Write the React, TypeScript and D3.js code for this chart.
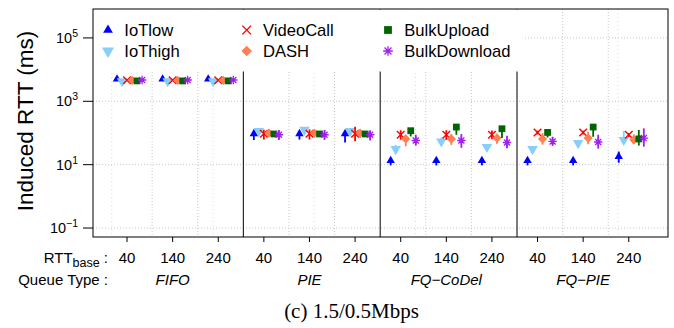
import * as d3 from "d3";

const queueTypes = ["FIFO", "PIE", "FQ\u2212CoDel", "FQ\u2212PIE"];
const rttBase = ["40", "140", "240"];
const yTicks = [1e-1, 1e1, 1e3, 1e5];
const yTickExp = ["\u22121", "1", "3", "5"];

// order of every array: FIFO 40/140/240, PIE 40/140/240, FQ-CoDel 40/140/240, FQ-PIE 40/140/240
const iotLow = [5000, 5000, 5000, 95, 95, 95, 13.5, 13.5, 13.5, 13.4, 13.4, 18];
const iotLowLo = [4800, 4800, 4800, 60, 62, 50, 9.5, 9.5, 9.5, 9.5, 9.5, 11.5];
const iotLowHi = [5200, 5200, 5200, 100, 100, 100, 16, 16, 16, 16, 16, 26];

const iotHigh = [4300, 4300, 4300, 115, 125, 115, 31, 54, 36, 31, 48, 60];
const iotHighLo = [4100, 4100, 4100, 105, 110, 105, 26, 42, 30, 27, 40, 52];
const iotHighHi = [4500, 4500, 4500, 125, 140, 125, 42, 72, 45, 38, 60, 115];

const videoCall = [4600, 4600, 4600, 95, 95, 95, 88, 88, 88, 104, 104, 88];
const videoCallLo = [4400, 4400, 4400, 62, 62, 55, 61, 61, 63, 90, 90, 75];
const videoCallHi = [4800, 4800, 4800, 126, 130, 157, 122, 122, 120, 118, 118, 100];

const dash = [4600, 4600, 4600, 100, 100, 100, 65, 65, 69, 65, 69, 61];
const dashLo = [4400, 4400, 4400, 75, 72, 70, 38, 42, 46, 43, 44, 45];
const dashHi = [4800, 4800, 4800, 118, 120, 125, 88, 92, 95, 100, 110, 90];

const bulkUpload = [4400, 4400, 4400, 93, 93, 93, 118, 154, 136, 104, 154, 65];
const bulkUploadLo = [4200, 4200, 4200, 82, 82, 80, 78, 88, 70, 72, 76, 40];
const bulkUploadHi = [4600, 4600, 4600, 105, 105, 105, 125, 165, 145, 110, 165, 125];

const bulkDownload = [4700, 4700, 4700, 88, 88, 88, 58, 58, 50, 54, 52, 69];
const bulkDownloadLo = [4500, 4500, 4500, 60, 60, 58, 40, 34, 33, 40, 32, 37];
const bulkDownloadHi = [4900, 4900, 4900, 125, 125, 120, 88, 93, 82, 76, 88, 140];

const seriesNames = ["IoTlow", "IoThigh", "VideoCall", "DASH", "BulkUpload", "BulkDownload"];
const seriesColors = ["#0000FF", "#87CEFA", "#FF0000", "#FF7F50", "#006400", "#A020F0"];
const seriesShapes = ["up", "down", "cross", "diamond", "square", "star"];

const series = [
  { mid: iotLow, lo: iotLowLo, hi: iotLowHi },
  { mid: iotHigh, lo: iotHighLo, hi: iotHighHi },
  { mid: videoCall, lo: videoCallLo, hi: videoCallHi },
  { mid: dash, lo: dashLo, hi: dashHi },
  { mid: bulkUpload, lo: bulkUploadLo, hi: bulkUploadHi },
  { mid: bulkDownload, lo: bulkDownloadLo, hi: bulkDownloadHi },
].map((s, i) => ({ ...s, name: seriesNames[i], color: seriesColors[i], shape: seriesShapes[i] }));

const W = 674;
const H = 328;
const plot = { left: 93, right: 668, top: 9, bottom: 237 };
const font = "'Liberation Sans', Arial, Helvetica, sans-serif";

const nPos = queueTypes.length * rttBase.length;
const x = d3.scaleLinear().domain([-0.746, 11.86]).range([plot.left, plot.right]);
const y = d3.scaleLog().domain([Math.pow(10, -1.283), Math.pow(10, 5.913)]).range([plot.bottom, plot.top]);
const dodge = 0.11;

function Marker({ shape, color, cx, cy, k = 1 }: any) {
  if (shape === "up") {
    const d = d3.symbol(d3.symbolTriangle, 31 * k * k)();
    return <path d={d!} transform={`translate(${cx},${cy})`} fill={color} />;
  }
  if (shape === "down") {
    const d = d3.symbol(d3.symbolTriangle, 48 * k * k)();
    return <path d={d!} transform={`translate(${cx},${cy}) rotate(180)`} fill={color} />;
  }
  if (shape === "square") {
    const d = d3.symbol(d3.symbolSquare, 46 * k * k)();
    return <path d={d!} transform={`translate(${cx},${cy})`} fill={color} />;
  }
  if (shape === "diamond") {
    const r = 4.6 * k;
    return <path d={`M0,${-r}L${r},0L0,${r}L${-r},0Z`} transform={`translate(${cx},${cy})`} fill={color} />;
  }
  if (shape === "cross") {
    const r = 3.8 * k;
    return (
      <path d={`M${-r},${-r}L${r},${r}M${-r},${r}L${r},${-r}`} transform={`translate(${cx},${cy})`}
        stroke={color} strokeWidth={1.4} fill="none" />
    );
  }
  const r = 4.2 * k;
  const q = r * 0.72;
  return (
    <path d={`M0,${-r}V${r}M${-r},0H${r}M${-q},${-q}L${q},${q}M${-q},${q}L${q},${-q}`}
      transform={`translate(${cx},${cy})`} stroke={color} strokeWidth={1.3} fill="none" />
  );
}

export default function App() {
  const positions = d3.range(nPos);
  const gridA = d3.range(11).filter((k) => k % 3 !== 2).map((k) => k + 0.55);
  const gridB = d3.range(6).map((k) => -0.334 + 2.22 * k);
  const separators = [2.55, 5.55, 8.55];

  const legendCols = [108, 246.7, 388];
  const legendRows = [30, 51];

  return (
    <svg width={W} height={H} style={{ position: "absolute", left: 0, top: 0, background: "#fff" }} fontFamily={font}>
      {/* grid */}
      {yTicks.map((t) => (
        <line key={"gy" + t} x1={plot.left} x2={plot.right} y1={y(t)} y2={y(t)}
          stroke="#c8c8c8" strokeWidth={1} strokeDasharray="1,2" />
      ))}
      {gridA.map((u) => (
        <line key={"ga" + u} x1={x(u)} x2={x(u)} y1={plot.top} y2={plot.bottom}
          stroke="#c8c8c8" strokeWidth={1} strokeDasharray="1,2" />
      ))}
      {gridB.map((u) => (
        <line key={"gb" + u} x1={x(u)} x2={x(u)} y1={plot.top} y2={plot.bottom}
          stroke="#d8d8d8" strokeWidth={1} strokeDasharray="1,3" />
      ))}
      {separators.map((u) => (
        <line key={"sep" + u} x1={x(u)} x2={x(u)} y1={plot.top} y2={plot.bottom} stroke="#000" strokeWidth={1} />
      ))}

      {/* data */}
      {series.map((s, si) => (
        <g key={s.name}>
          {positions.map((p) => {
            const cx = x(p + (si - 2) * dodge);
            return (
              <g key={p}>
                <line x1={cx} x2={cx} y1={y(s.lo[p])} y2={y(s.hi[p])} stroke={s.color} strokeWidth={1.8} />
                <Marker shape={s.shape} color={s.color} cx={cx} cy={y(s.mid[p])} />
              </g>
            );
          })}
        </g>
      ))}

      {/* legend */}
      <rect x={plot.left + 0.5} y={plot.top + 0.5} width={429} height={62} fill="#fff" />
      {series.map((s, i) => {
        const col = Math.floor(i / 2);
        const row = i % 2;
        return (
          <g key={"lg" + s.name}>
            <Marker shape={s.shape} color={s.color} cx={legendCols[col]} cy={legendRows[row]} k={1.15} />
            <text x={legendCols[col] + 16.3} y={legendRows[row] + 6} fontSize={16.6} fill="#000">
              {s.name}
            </text>
          </g>
        );
      })}

      {/* frame */}
      <rect x={plot.left} y={plot.top} width={plot.right - plot.left} height={plot.bottom - plot.top}
        fill="none" stroke="#000" strokeWidth={1} />

      {/* y axis */}
      {yTicks.map((t, i) => (
        <g key={"yt" + t}>
          <line x1={plot.left - 10} x2={plot.left} y1={y(t)} y2={y(t)} stroke="#000" />
          <text x={78} y={y(t) + 5} textAnchor="end" fontSize={14.5}>
            10<tspan dy={-6} fontSize={10.5}>{yTickExp[i]}</tspan>
          </text>
        </g>
      ))}
      <text transform={`translate(33,121) rotate(-90)`} textAnchor="middle" fontSize={22.5}>
        Induced RTT (ms)
      </text>

      {/* x axis */}
      {positions.map((p) => (
        <g key={"xt" + p}>
          <line x1={x(p)} x2={x(p)} y1={plot.bottom} y2={plot.bottom + 5} stroke="#000" />
          <text x={x(p)} y={263} textAnchor="middle" fontSize={15}>
            {rttBase[p % rttBase.length]}
          </text>
        </g>
      ))}
      <text x={108} y={263} textAnchor="end" fontSize={15}>
        RTT<tspan dy={4} fontSize={12.5}>base</tspan><tspan dy={-4}> :</tspan>
      </text>
      <text x={108} y={285} textAnchor="end" fontSize={15}>
        Queue Type :
      </text>
      {queueTypes.map((q, g) => (
        <text key={q} x={x(g * 3 + 1)} y={285} textAnchor="middle" fontSize={15} fontStyle="italic">
          {q}
        </text>
      ))}

      <text x={351.5} y={318} textAnchor="middle" fontSize={21}
        fontFamily="'Liberation Serif', 'Times New Roman', serif">
        (c) 1.5/0.5Mbps
      </text>
    </svg>
  );
}
